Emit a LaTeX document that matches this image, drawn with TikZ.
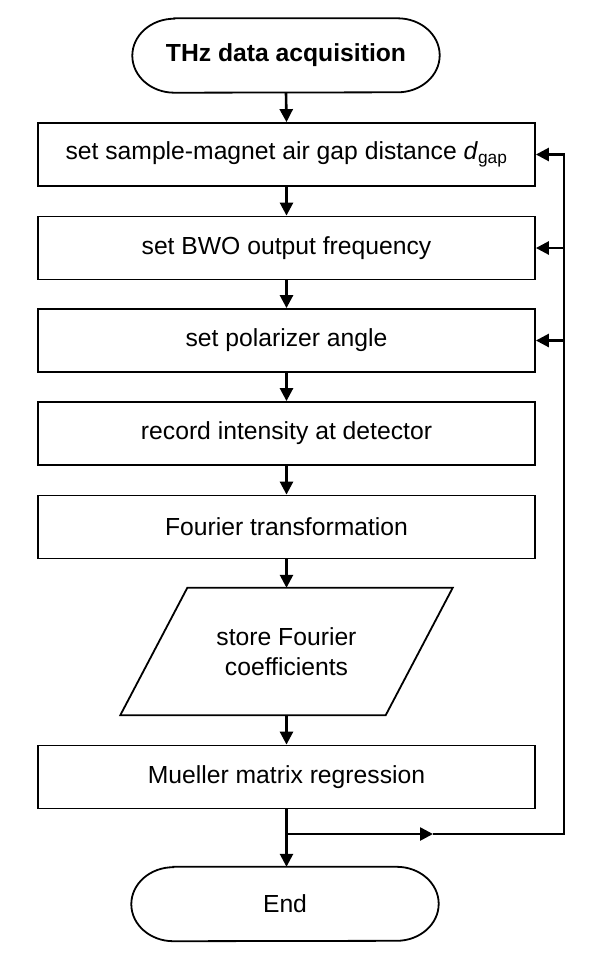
\documentclass[tikz,border=0pt]{standalone}
\usepackage{fontspec}
\setmainfont{Liberation Sans}
\usetikzlibrary{arrows.meta,calc}
\begin{document}
\begin{tikzpicture}[x=1pt,y=-1pt,
  every node/.style={font=\fontsize{24.7}{33}\selectfont},
  boxline/.style={line width=1.8pt},
  procbox/.style={draw,boxline,minimum width=497pt,minimum height=63pt,inner sep=0pt,align=center},
  termnode/.style={minimum width=307pt,minimum height=74pt,inner sep=0pt},
  ionode/.style={minimum width=332pt,minimum height=127pt,inner sep=0pt,align=center,font=\fontsize{24.7}{30}\selectfont},
  conn/.style={line width=2.6pt},
  arr/.style={conn,-{Triangle[length=13pt,width=13pt]}}]
\useasboundingbox (0,0) rectangle (598,967);
\newcommand\termshape[1]{\draw[boxline] ($(#1.north west)+(42,0)$) -- ($(#1.north east)+(-42,0)$)
  arc[start angle=90,end angle=-90,x radius=42pt,y radius=37pt]
  -- ($(#1.south west)+(42,0)$)
  arc[start angle=270,end angle=90,x radius=42pt,y radius=37pt] -- cycle;}
% nodes
\node[termnode] (start) at (286,55.5) {\bfseries THz data acquisition};
\termshape{start}
\node[procbox] (b1) at (286.5,154.5) {set sample-magnet air gap distance \textit{d}\textsubscript{gap}};
\node[procbox] (b2) at (286.5,248) {set BWO output frequency};
\node[procbox] (b3) at (286.5,340.5) {set polarizer angle};
\node[procbox] (b4) at (286.5,433.5) {record intensity at detector};
\node[procbox] (b5) at (286.5,527) {Fourier transformation};
\node[ionode] (io) at (286.5,651.5) {store Fourier\\coefficients};
\draw[boxline] ($(io.north west)+(67,0)$) -- (io.north east) -- ($(io.south east)+(-67,0)$) -- (io.south west) -- cycle;
\node[procbox] (b6) at (286.5,777) {Mueller matrix regression};
\node[termnode] (endn) at (285,904) {End};
\termshape{endn}
% connectors
\draw[arr] (start.south) -- (b1.north);
\draw[arr] (b1.south) -- (b2.north);
\draw[arr] (b2.south) -- (b3.north);
\draw[arr] (b3.south) -- (b4.north);
\draw[arr] (b4.south) -- (b5.north);
\draw[arr] (b5.south) -- (io.north);
\draw[arr] (io.south) -- (b6.north);
\draw[arr] (b6.south) -- (b6.south |- endn.north);
\coordinate (j) at (286.5,834);
\coordinate (m) at (433,834);
\coordinate (c) at (564,834);
\draw[arr] (j) -- (m);
\draw[arr] (m) -- (c) |- (b1.east);
\draw[arr] (c |- b2.east) -- (b2.east);
\draw[arr] (c |- b3.east) -- (b3.east);
\end{tikzpicture}
\end{document}
